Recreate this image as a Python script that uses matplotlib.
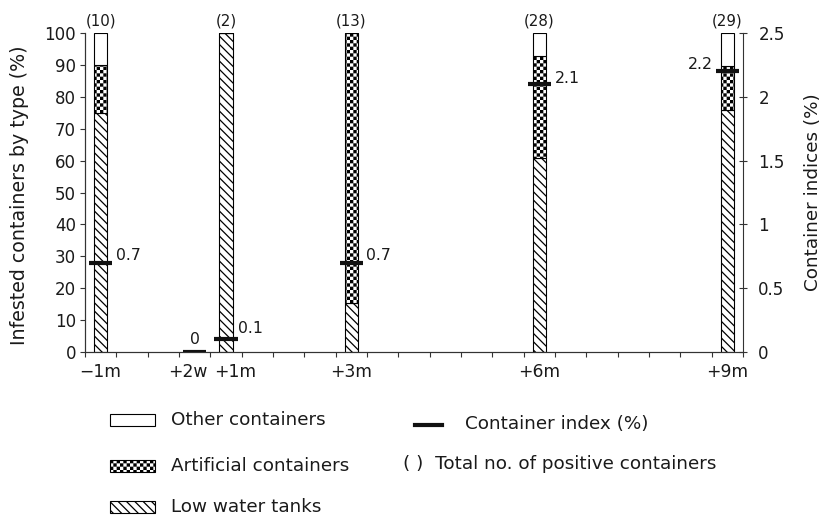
import warnings
warnings.filterwarnings("ignore")
import numpy as np
import matplotlib
matplotlib.use("Agg")
import matplotlib.pyplot as plt
import matplotlib.hatch as mhatch
import matplotlib.transforms as mtransforms
from matplotlib.path import Path
from matplotlib.patches import Rectangle
from matplotlib.lines import Line2D

# ---------------- data ----------------
categories = ["\u22121m", "+2w", "+1m", "+3m", "+6m", "+9m"]
time_halfmonths = [-2, 1, 2, 6, 12, 18]          # time in half-month units
low_water_tanks = [75.0, 0.0, 100.0, 15.4, 60.7, 75.9]
artificial = [15.0, 0.0, 0.0, 84.6, 32.2, 13.8]
other = [10.0, 0.0, 0.0, 0.0, 7.1, 10.3]
container_index = [0.7, 0.0, 0.1, 0.7, 2.1, 2.2]
total_positive = [10, 0, 2, 13, 28, 29]

# label placement styles (points)
ci_label_offsets = [(2.5, 5), (0, 9), (0.5, 8), (2.5, 5), (2.5, 4), (-2, 5)]
ci_label_ha = ["left", "center", "left", "left", "left", "right"]
xtick_nudge_pts = [0, -5, 6.5, 0, 0, 0]

# ---------------- checkerboard hatch ----------------
class CheckerHatch(mhatch.HatchPatternBase):
    n = 30

    def __init__(self, hatch, density):
        self.on = "c" in hatch
        self.num_vertices = (self.n * self.n // 2) * 5 if self.on else 0

    def set_vertices_and_codes(self, vertices, codes):
        n = self.n
        s = 1.0 / n
        d = 0.0062
        vs, cs = [], []
        for i in range(n):
            for j in range(n):
                if (i + j) % 2 == 0:
                    x0, y0 = i * s + d, j * s + d
                    x1, y1 = (i + 1) * s - d, (j + 1) * s - d
                    vs += [[x0, y0], [x1, y0], [x1, y1], [x0, y1], [x0, y0]]
                    cs += [Path.MOVETO, Path.LINETO, Path.LINETO, Path.LINETO, Path.CLOSEPOLY]
        vertices[:] = np.array(vs)
        codes[:] = np.array(cs, dtype=Path.code_type)

mhatch._hatch_types.append(CheckerHatch)

HATCH_LOW = "\\\\\\\\"
HATCH_ART = "c"

plt.rcParams["font.family"] = ["DejaVu Sans"]
plt.rcParams["hatch.linewidth"] = 0.9
TXT = "#1a1a1a"
SP = "#333333"

fig = plt.figure(figsize=(8.27, 5.27), dpi=100)
W, H = 827, 527
ax = fig.add_axes([85 / W, 1 - 352 / H, (743 - 85) / W, (352 - 33) / H])
ax2 = ax.twinx()

x = np.array(time_halfmonths, dtype=float)
low = np.array(low_water_tanks)
art = np.array(artificial)
oth = np.array(other)
has = (low + art + oth) > 0
bw = 0.43

ax.bar(x[has], low[has], width=bw, color="white", edgecolor="black",
       hatch=HATCH_LOW, linewidth=0.8)
ax.bar(x[has], art[has], bottom=low[has], width=bw, color="white",
       edgecolor="black", hatch=HATCH_ART, linewidth=0.8)
ax.bar(x[has], oth[has], bottom=(low + art)[has], width=bw, color="white",
       edgecolor="black", linewidth=0.8)

ax.set_xlim(-2.5, 18.5)
ax.set_ylim(0, 100)
ax2.set_ylim(0, 2.5)

# count labels
for xi, t, h in zip(x, total_positive, has):
    if h:
        ax.annotate(f"({t})", (xi, 100), xytext=(0, 3.5), textcoords="offset points",
                    ha="center", va="bottom", fontsize=10.8, color=TXT,
                    annotation_clip=False)

# container index marks
ci = np.array(container_index)
ax2.hlines(ci, x - 0.37, x + 0.37, colors="#111111", linewidth=3.0, zorder=5)
for xi, c, off, ha in zip(x, ci, ci_label_offsets, ci_label_ha):
    anchor_x = xi + 0.37 if ha == "left" else (xi - 0.37 if ha == "right" else xi)
    ax2.annotate(f"{c:g}", (anchor_x, c), xytext=off, textcoords="offset points",
                 ha=ha, va="center", fontsize=11.3, color=TXT)

# ticks
ax.set_xticks(np.arange(-2.5, 18.6, 1.0))
ax.set_xticklabels([])
ax.set_xticks(x, categories, minor=True)
ax.tick_params(axis="x", which="major", direction="out", length=3.5, width=0.8, color=SP)
ax.tick_params(axis="x", which="minor", length=0, pad=8, labelsize=12.3, labelcolor=TXT)
for lab, dx in zip(ax.get_xticklabels(minor=True), xtick_nudge_pts):
    lab.set_transform(lab.get_transform() +
                      mtransforms.ScaledTranslation(dx / 72, 0, fig.dpi_scale_trans))
ax.set_yticks(np.arange(0, 101, 10))
ax.tick_params(axis="y", direction="out", length=3.5, width=0.8, color=SP,
               labelsize=12, labelcolor=TXT, pad=3)
ax2.set_yticks([0, 0.5, 1, 1.5, 2, 2.5], ["0", "0.5", "1", "1.5", "2", "2.5"])
ax2.tick_params(axis="y", direction="inout", length=6, width=0.8, color=SP,
                labelsize=12, labelcolor=TXT, pad=8)

for a in (ax, ax2):
    a.spines["top"].set_visible(False)
    for s in ("left", "right", "bottom"):
        a.spines[s].set_color(SP)
        a.spines[s].set_linewidth(0.8)
ax.spines["right"].set_visible(False)

ax.set_ylabel("Infested containers by type (%)", fontsize=13.7, color=TXT)
ax.yaxis.set_label_coords(-0.085, 0.49)
ax2.set_ylabel("Container indices (%)", fontsize=13.2, color=TXT)
ax2.yaxis.set_label_coords(1.092, 0.5)

# ---------------- legend (manual) ----------------
def fx(px):
    return px / W

def fy(py):
    return 1 - py / H

leg_items = [("Other containers", None, 420),
             ("Artificial containers", HATCH_ART, 466),
             ("Low water tanks", HATCH_LOW, 507)]
for label, hatch, yc in leg_items:
    r = Rectangle((fx(110), fy(yc + 6)), fx(155) - fx(110), (12 / H),
                  transform=fig.transFigure, facecolor="white", edgecolor="black",
                  linewidth=0.8, hatch=hatch)
    fig.add_artist(r)
    fig.text(fx(171), fy(yc), label, ha="left", va="center", fontsize=13.2, color=TXT)

fig.add_artist(Line2D([fx(415), fx(442)], [fy(425), fy(425)], transform=fig.transFigure,
                      color="#111111", linewidth=3.0))
fig.text(fx(465), fy(424), "Container index (%)", ha="left", va="center",
         fontsize=13.2, color=TXT)
fig.text(fx(403), fy(464), "( )  Total no. of positive containers", ha="left",
         va="center", fontsize=13.2, color=TXT)

fig.savefig("out.png", dpi=100)
